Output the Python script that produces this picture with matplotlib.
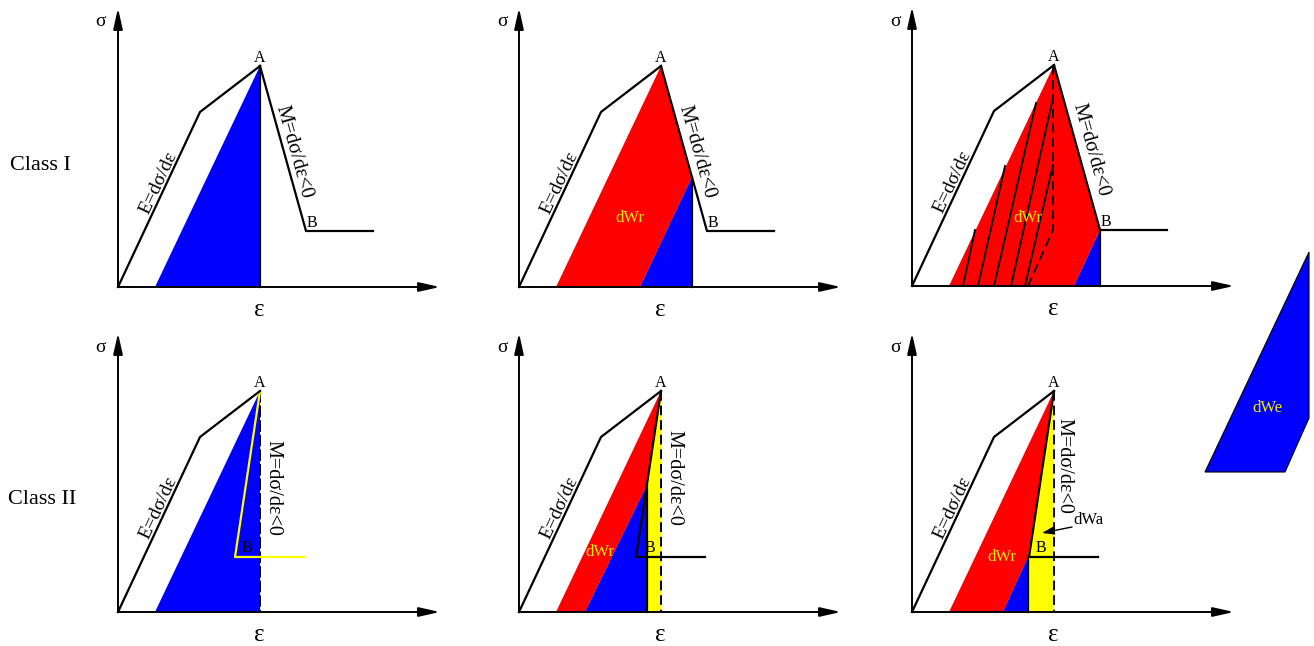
import matplotlib.pyplot as plt

W, H = 1314, 646
plt.rcParams['font.family'] = ['Liberation Serif', 'DejaVu Serif']

# panel origins in figure pixels (x from left, y from top)
origins = [(118, 287), (519, 287), (912, 286), (118, 612), (519, 612), (912, 612)]

# loading path common to every panel (strain, stress)
load_eps = [0, 82, 142]
load_sig = [0, 175, 221]
peak_eps, peak_sig = 142, 221

# class I post-peak branch A -> B -> plateau
soft1_eps = [142, 188, 255]
soft1_sig = [221, 56, 56]
# class II post-peak branch (snap-back)
soft2_eps = [142, 117, 186]
soft2_sig = [221, 55, 55]

# panel 1: elastic energy on unloading from A
p1_blue_eps = [37, 142, 142]
p1_blue_sig = [0, 221, 0]

# panel 2
p2_red_eps = [37, 142, 173, 121]
p2_red_sig = [0, 221, 110, 0]
p2_blue_eps = [121, 173, 173]
p2_blue_sig = [0, 110, 0]

# panel 3
p3_red_eps = [37, 142, 188, 162]
p3_red_sig = [0, 221, 56, 0]
p3_blue_eps = [162, 188, 188]
p3_blue_sig = [0, 56, 0]
p3_line_start = [51, 66, 82, 99, 113]
p3_line_top_eps = [63, 93, 124, 141, 141]
p3_line_top_sig = [56, 120, 183, 188, 121]
p3_dash_eps = [116, 141, 141]
p3_dash_sig = [0, 56, 221]

# panel 4
p4_blue_eps = [37, 142, 142]
p4_blue_sig = [0, 221, 0]

# panel 5
p5_red_eps = [37, 142, 128, 66]
p5_red_sig = [0, 221, 127, 0]
p5_blue_eps = [66, 128, 128]
p5_blue_sig = [0, 127, 0]
p5_yel_eps = [128, 128, 142, 142]
p5_yel_sig = [0, 127, 221, 0]

# panel 6
p6_red_eps = [37, 142, 116, 91]
p6_red_sig = [0, 221, 55, 0]
p6_blue_eps = [91, 116, 116]
p6_blue_sig = [0, 55, 0]
p6_yel_eps = [116, 116, 142, 142]
p6_yel_sig = [0, 55, 221, 0]

# extra dWe piece at far right
we_eps = [293, 397, 397, 373]
we_sig = [140, 360, 194, 140]

RED = '#ff0000'
BLUE = '#0000ff'
YEL = '#ffff00'
TXT_Y = '#eeee00'

xmin, xmax, ymin, ymax = -125, 420, -50, 285

fig = plt.figure(figsize=(W / 100, H / 100), dpi=100)
axes = []
for ox, oy in origins:
    ax = fig.add_axes([(ox + xmin) / W, (H - oy + ymin) / H,
                       (xmax - xmin) / W, (ymax - ymin) / H])
    ax.set_xlim(xmin, xmax)
    ax.set_ylim(ymin, ymax)
    ax.axis('off')
    ax.patch.set_visible(False)
    axes.append(ax)


def frame(ax):
    ap = dict(arrowstyle='-|>,head_length=0.9,head_width=0.2', lw=1.4,
              color='k', shrinkA=0, shrinkB=0, mutation_scale=14)
    ax.annotate('', xy=(322, 0), xytext=(0, 0), arrowprops=ap)
    ax.annotate('', xy=(0, 279), xytext=(0, 0), arrowprops=ap)
    ax.text(141, -23, 'ε', fontsize=18, ha='center', va='center')
    ax.text(-17, 265, 'σ', fontsize=14, ha='center', va='center')
    ax.plot(load_eps, load_sig, color='k', lw=1.6, zorder=5)
    ax.text(40, 104, 'E=dσ/dε', fontsize=14, rotation=64.9,
            ha='center', va='center', zorder=6)
    ax.text(peak_eps, 229, 'A', fontsize=11.5, ha='center', va='center', zorder=6)


def m_label(ax, x, y, rot):
    ax.text(x, y, 'M=dσ/dε<0', fontsize=14.5, rotation=rot,
            ha='center', va='center')


# ---- Class I ----
ax = axes[0]
frame(ax)
ax.fill(p1_blue_eps, p1_blue_sig, color=BLUE, lw=0)
ax.plot(soft1_eps, soft1_sig, color='k', lw=1.6)
ax.plot([142, 142], [221, 0], color='k', lw=1.6)
m_label(ax, 176, 135, -74.5)
ax.text(194, 64, 'B', fontsize=11.5, ha='center', va='center')
ax.text(-78, 122, 'Class I', fontsize=16, ha='center', va='center')

ax = axes[1]
frame(ax)
ax.fill(p2_red_eps, p2_red_sig, color=RED, lw=0)
ax.fill(p2_blue_eps, p2_blue_sig, color=BLUE, lw=0)
ax.plot(soft1_eps, soft1_sig, color='k', lw=1.6)
ax.plot([173, 173], [110, 0], color='k', lw=1.6)
m_label(ax, 178, 135, -74.5)
ax.text(194, 64, 'B', fontsize=11.5, ha='center', va='center')
ax.text(111, 69, 'dWr', fontsize=12, color=TXT_Y, ha='center', va='center')

ax = axes[2]
frame(ax)
ax.fill(p3_red_eps, p3_red_sig, color=RED, lw=0)
ax.fill(p3_blue_eps, p3_blue_sig, color=BLUE, lw=0)
for s, te, ts in zip(p3_line_start, p3_line_top_eps, p3_line_top_sig):
    ax.plot([s, te], [0, ts], color='k', lw=1.3)
ax.plot(p3_dash_eps, p3_dash_sig, color='k', lw=1.3, ls=(0, (5, 3)))
ax.plot(soft1_eps, soft1_sig, color='k', lw=1.6)
ax.plot([188, 188], [56, 0], color='k', lw=1.6)
m_label(ax, 179, 136, -74.5)
ax.text(194, 64, 'B', fontsize=11.5, ha='center', va='center')
ax.text(116, 68, 'dWr', fontsize=12, color=TXT_Y, ha='center', va='center')

# ---- Class II ----
ax = axes[3]
frame(ax)
ax.fill(p4_blue_eps, p4_blue_sig, color=BLUE, lw=0)
ax.plot([142, 142], [221, 0], color='k', lw=1.4, ls=(0, (6, 1.5)))
ax.plot(soft2_eps, soft2_sig, color=YEL, lw=1.6)
m_label(ax, 155, 124, -90)
ax.text(129, 64, 'B', fontsize=11.5, ha='center', va='center')
ax.text(-76, 112, 'Class II', fontsize=16, ha='center', va='center')

ax = axes[4]
frame(ax)
ax.fill(p5_red_eps, p5_red_sig, color=RED, lw=0)
ax.fill(p5_blue_eps, p5_blue_sig, color=BLUE, lw=0)
ax.fill(p5_yel_eps, p5_yel_sig, color=YEL, lw=0)
ax.plot([142, 142], [221, 0], color='k', lw=1.4, ls=(0, (5, 2.5)))
ax.plot(soft2_eps, soft2_sig, color='k', lw=1.6)
ax.plot([128, 128], [127, 0], color='k', lw=1.6)
m_label(ax, 155, 134, -90)
ax.text(131, 64, 'B', fontsize=11.5, ha='center', va='center')
ax.text(81, 60, 'dWr', fontsize=12, color=TXT_Y, ha='center', va='center')

ax = axes[5]
frame(ax)
ax.fill(p6_red_eps, p6_red_sig, color=RED, lw=0)
ax.fill(p6_blue_eps, p6_blue_sig, color=BLUE, lw=0)
ax.fill(p6_yel_eps, p6_yel_sig, color=YEL, lw=0)
ax.plot([142, 142], [221, 0], color='k', lw=1.4, ls=(0, (5, 2.5)))
ax.plot(soft2_eps, soft2_sig, color='k', lw=1.6)
ax.plot([116, 116], [55, 0], color='k', lw=1.6)
m_label(ax, 152, 146, -90)
ax.text(129, 64, 'B', fontsize=11.5, ha='center', va='center')
ax.text(90, 55, 'dWr', fontsize=12, color=TXT_Y, ha='center', va='center')
ax.text(176, 92, 'dWa', fontsize=12, ha='center', va='center')
ax.annotate('', xy=(130, 79), xytext=(160, 85),
            arrowprops=dict(arrowstyle='-|>,head_length=0.6,head_width=0.2',
                            lw=1.0, color='k', shrinkA=0, shrinkB=0, mutation_scale=12))
ax.fill(we_eps, we_sig, color=BLUE, ec='k', lw=0.8, clip_on=False)
ax.text(355, 204, 'dWe', fontsize=12, color=TXT_Y, ha='center', va='center')

fig.savefig('out.png', dpi=100)
